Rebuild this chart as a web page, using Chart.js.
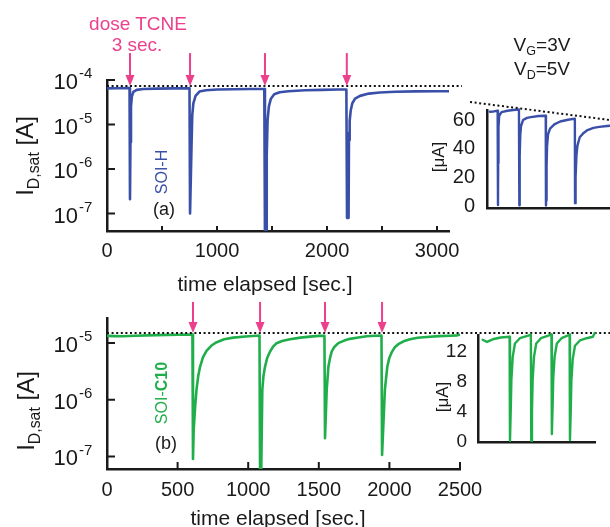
<!DOCTYPE html>
<html>
<head>
<meta charset="utf-8">
<script src="https://cdn.jsdelivr.net/npm/chart.js@4.4.1/dist/chart.umd.min.js"></script>
<style>
html, body { margin: 0; padding: 0; background: #fff; overflow: hidden; }
#wrap { position: relative; width: 610px; height: 527px; font-family: "Liberation Sans", Arial, Helvetica, sans-serif; color: #1a1a1a; }
#wrap canvas { position: absolute; left: 0; top: 0; }
.t { position: absolute; white-space: nowrap; line-height: 1; transform: translate(-50%, -50%); }
.rot { transform: translate(-50%, -50%) rotate(-90deg); }
.sb { position: relative; top: 0.35em; font-size: 0.66em; }
.pink { color: #ec3f8c; }
.bold { font-weight: 700; }
</style>
</head>
<body>
<div id="wrap">
  <canvas id="mainA" width="610" height="527"></canvas>
  <canvas id="insetA" width="610" height="527"></canvas>
  <canvas id="mainB" width="610" height="527"></canvas>
  <canvas id="insetB" width="610" height="527"></canvas>

  <div class="t pink" style="left:138px;top:23px;font-size:19px">dose TCNE</div>
  <div class="t pink" style="left:137px;top:44px;font-size:19px">3 sec.</div>
  <div class="t" style="left:542px;top:44px;font-size:19px">V<span class="sb">G</span>=3V</div>
  <div class="t" style="left:542px;top:68px;font-size:19px">V<span class="sb">D</span>=5V</div>

  <div class="t rot" style="left:25px;top:156px;font-size:24px">I<span class="sb">D,sat</span> [A]</div>
  <div class="t rot" style="left:26px;top:411px;font-size:24px">I<span class="sb">D,sat</span> [A]</div>
  <div class="t" style="left:265px;top:283px;font-size:21px">time elapsed [sec.]</div>
  <div class="t" style="left:278px;top:517px;font-size:21px">time elapsed [sec.]</div>

  <div class="t rot" style="left:162px;top:172px;font-size:16px;color:#3a50a8">SOI-H</div>
  <div class="t" style="left:164px;top:209px;font-size:18px">(a)</div>
  <div class="t rot" style="left:162px;top:393px;font-size:16px;color:#1fae4a">SOI-<span class="bold">C10</span></div>
  <div class="t" style="left:166px;top:443px;font-size:18px">(b)</div>

  <div class="t rot" style="left:438px;top:157px;font-size:17px">[μA]</div>
  <div class="t rot" style="left:442px;top:397px;font-size:17px">[μA]</div>
</div>
<script>
// ---- panel (a): SOI-H, main plot [A] ----
const doseA = [209, 755, 1436, 2180];
const timeA = [0, 100, 205,
    209, 213, 218, 226, 240, 270, 330, 450, 600, 750,
    755, 762, 768, 775, 785, 805, 840, 900, 1000, 1150, 1300, 1430,
    1436, 1446, 1452, 1460, 1472, 1490, 1520, 1570, 1650, 1800, 1950, 2100, 2176,
    2182, 2196, 2200, 2204, 2208, 2216, 2230, 2255, 2300, 2380, 2480, 2620, 2800, 3000, 3110];
const currentA = [6.5e-5, 6.55e-5, 6.6e-5,
    2.1e-7, 4e-6, 2.5e-5, 4.3e-5, 5.4e-5, 6.0e-5, 6.3e-5, 6.4e-5, 6.5e-5, 6.55e-5,
    1.0e-7, 1.0e-7, 3e-6, 1.6e-5, 3.0e-5, 4.4e-5, 5.5e-5, 5.9e-5, 6.1e-5, 6.2e-5, 6.3e-5, 6.3e-5,
    3e-8, 3e-8, 2e-6, 1.3e-5, 2.6e-5, 3.8e-5, 4.8e-5, 5.3e-5, 5.6e-5, 5.9e-5, 6.0e-5, 6.1e-5, 6.1e-5,
    8e-8, 8e-8, 6.5e-6, 4.5e-6, 1.2e-5, 2.1e-5, 3.0e-5, 3.8e-5, 4.4e-5, 4.95e-5, 5.25e-5, 5.45e-5, 5.55e-5, 5.6e-5, 5.6e-5];
const refLevelA = 7.3e-5;
const refEndA = 3227;
const xTicksA = [500, 1000, 1500, 2000, 2500, 3000];
const xLabelsA = [0, 1000, 2000, 3000];
const yLogTicksA = [1e-4, 1e-5, 1e-6, 1e-7];

// ---- panel (a) inset [μA] ----
const insetTimeA = [0, 100, 200, 209, 214, 222, 240, 300, 450, 600, 745,
    755, 760, 768, 780, 800, 850, 950, 1050, 1250, 1430,
    1436, 1442, 1452, 1465, 1490, 1540, 1650, 1800, 2000, 2175,
    2180, 2188, 2200, 2215, 2240, 2300, 2400, 2500, 2650, 2800, 3000, 3080];
const insetCurA = [65.8, 66, 66.5, 0.7, 30, 55, 63, 65.5, 66.5, 67, 67.3,
    0.5, 5, 35, 50, 56, 60, 61.5, 62, 62.8, 63,
    0.4, 4, 28, 42, 50, 54, 57, 59, 60.2, 61,
    2, 3, 20, 35, 42, 48, 51, 53, 54.5, 55.2, 55.8, 56];
const insetRefA = [[-506, 72.6], [3074, 60]];
const insetLabelsA = [0, 20, 40, 60];

// ---- panel (b): SOI-C10, main plot [A] ----
const doseB = [609, 1084, 1544, 1948];
const timeB = [0, 60, 110, 200, 350, 500, 605,
    609, 614, 625, 634, 646, 659, 680, 706, 740, 777, 830, 894, 980, 1059, 1080,
    1084, 1092, 1100, 1108, 1119, 1135, 1154, 1175, 1201, 1240, 1296, 1370, 1437, 1500, 1540,
    1544, 1549, 1556, 1568, 1580, 1591, 1610, 1638, 1680, 1721, 1780, 1839, 1900, 1944,
    1948, 1952, 1968, 1985, 2000, 2016, 2040, 2063, 2100, 2146, 2200, 2264, 2350, 2430, 2480, 2500];
const currentB = [1.33e-5, 1.32e-5, 1.31e-5, 1.34e-5, 1.37e-5, 1.39e-5, 1.4e-5,
    9e-8, 3e-7, 8e-7, 1.5e-6, 2.6e-6, 3.8e-6, 5.6e-6, 7.3e-6, 9e-6, 1.03e-5, 1.16e-5, 1.24e-5, 1.3e-5, 1.34e-5, 1.35e-5,
    5e-8, 5e-8, 1.5e-6, 2.6e-6, 3.8e-6, 5.5e-6, 7e-6, 8.5e-6, 9.9e-6, 1.08e-5, 1.16e-5, 1.24e-5, 1.29e-5, 1.33e-5, 1.34e-5,
    2.1e-7, 2.1e-7, 1.5e-6, 3.8e-6, 5.5e-6, 7e-6, 8.5e-6, 9.9e-6, 1.1e-5, 1.18e-5, 1.25e-5, 1.31e-5, 1.34e-5, 1.35e-5,
    1.06e-7, 1.06e-7, 1.5e-6, 3.8e-6, 5.5e-6, 6.8e-6, 8.5e-6, 9.5e-6, 1.07e-5, 1.16e-5, 1.23e-5, 1.27e-5, 1.32e-5, 1.34e-5, 1.36e-5, 1.4e-5];
const refLevelB = 1.5e-5;
const refEndB = 3562;
const xTicksB = [500, 1000, 1500, 2000, 2500];
const xLabelsB = [0, 500, 1000, 1500, 2000, 2500];
const yLogTicksB = [1e-5, 1e-6, 1e-7];

// ---- panel (b) inset [μA] ----
const insetTimeB = [0, 96, 250, 400, 600, 609, 625, 640, 670, 720, 830, 1000, 1075,
    1084, 1100, 1115, 1145, 1195, 1300, 1450, 1535,
    1544, 1560, 1575, 1605, 1655, 1760, 1880, 1940,
    1948, 1965, 1980, 2010, 2060, 2170, 2320, 2460, 2500];
const insetCurB = [13.6, 13.3, 13.7, 13.9, 14.0, 0.1, 4, 8.2, 11.3, 13.1, 13.8, 14.1, 14.3,
    0.1, 4, 8.2, 11.3, 13.1, 13.8, 14.1, 14.3,
    1.0, 4.5, 8.5, 11.3, 13.1, 13.8, 14.1, 14.3,
    0.2, 4, 8.2, 11, 12.8, 13.5, 13.8, 14.0, 14.5];
const insetLabelsB = [0, 4, 8, 12];

const BLUE = '#3a50a8';
const GREEN = '#1fae4a';
const PINK = '#ec3f8c';
const INK = '#1a1a1a';
const FONT = '"Liberation Sans", Arial, Helvetica, sans-serif';

const toPts = (xs, ys) => xs.map((t, i) => ({ x: t, y: ys[i] }));

// inward ticks, tick labels (with 10^n superscripts) and dose arrows
const decoPlugin = {
    id: 'deco',
    afterDraw(chart, args, o) {
        const ctx = chart.ctx;
        const xs = chart.scales.x, ys = chart.scales.y;
        ctx.save();
        ctx.strokeStyle = INK;
        ctx.lineWidth = 2;
        ctx.beginPath();
        (o.xTicks || []).forEach(v => {
            const px = xs.getPixelForValue(v);
            ctx.moveTo(px, ys.bottom);
            ctx.lineTo(px, ys.bottom - o.xTickLen);
        });
        (o.yTicks || []).forEach(v => {
            const py = ys.getPixelForValue(v);
            ctx.moveTo(xs.left, py);
            ctx.lineTo(xs.left + o.yTickLen, py);
        });
        ctx.stroke();

        ctx.fillStyle = INK;
        ctx.textBaseline = 'middle';
        ctx.textAlign = 'center';
        ctx.font = '20px ' + FONT;
        (o.xLabels || []).forEach(v => {
            ctx.fillText(String(v), xs.getPixelForValue(v), ys.bottom + o.xLabelGap);
        });

        (o.yLabels || []).forEach(v => {
            const py = ys.getPixelForValue(v);
            if (o.log) {
                const exp = Math.round(Math.log10(v));
                const x0 = xs.left - 29;
                ctx.font = '22px ' + FONT;
                ctx.textAlign = 'right';
                ctx.fillText('10', x0, py + 3);
                ctx.font = '15px ' + FONT;
                ctx.textAlign = 'left';
                ctx.fillText(String(exp), x0 + 1, py - 6);
            } else {
                ctx.font = o.yFont;
                ctx.textAlign = 'right';
                ctx.fillText(String(v), xs.left - o.yLabelGap, py);
            }
        });

        if (o.doses) {
            const tip = ys.getPixelForValue(o.arrowAt);
            ctx.strokeStyle = PINK;
            ctx.fillStyle = PINK;
            ctx.lineWidth = 2;
            o.doses.forEach(t => {
                const px = xs.getPixelForValue(t);
                ctx.beginPath();
                ctx.moveTo(px, tip - o.arrowLen);
                ctx.lineTo(px, tip - 8);
                ctx.stroke();
                ctx.beginPath();
                ctx.moveTo(px - 4.5, tip - 11);
                ctx.lineTo(px + 4.5, tip - 11);
                ctx.lineTo(px, tip);
                ctx.closePath();
                ctx.fill();
            });
        }
        ctx.restore();
    }
};

function axis(type, min, max, fit) {
    return {
        type, min, max,
        grid: { display: false },
        ticks: { display: false },
        border: { display: true, color: INK, width: 2.5 },
        afterFit: s => { s[fit] = 0; }
    };
}

function line(data, color, w, extra) {
    return Object.assign({
        data, borderColor: color, borderWidth: w, pointRadius: 0,
        tension: 0, borderJoinStyle: 'round', borderCapStyle: 'round', fill: false
    }, extra || {});
}

function dotted(data) {
    return line(data, '#111', 2, { borderDash: [2, 2.6], clip: false, borderCapStyle: 'butt' });
}

function makeChart(id, padding, scales, datasets, deco) {
    return new Chart(document.getElementById(id), {
        type: 'line',
        data: { datasets },
        options: {
            responsive: false,
            animation: false,
            layout: { padding },
            scales,
            plugins: { legend: { display: false }, tooltip: { enabled: false }, deco }
        },
        plugins: [decoPlugin]
    });
}

// (a) main, log scale
makeChart('mainA', { left: 107, top: 80, right: 161, bottom: 296 },
    { x: axis('linear', 0, 3109, 'height'), y: axis('logarithmic', 4.05e-8, 1e-4, 'width') },
    [
        dotted([{ x: 0, y: refLevelA }, { x: refEndA, y: refLevelA }]),
        line(toPts(timeA, currentA), BLUE, 2.6)
    ],
    { xTicks: xTicksA, xTickLen: 5, xLabels: xLabelsA, xLabelGap: 20,
      yTicks: yLogTicksA, yTickLen: 8, yLabels: yLogTicksA, log: true,
      doses: doseA, arrowAt: refLevelA, arrowLen: 33 });

// (a) inset, linear μA
makeChart('insetA', { left: 487, top: 110, right: 0, bottom: 319 },
    { x: axis('linear', -72, 3074, 'height'), y: axis('linear', -1.4, 67, 'width') },
    [
        dotted(insetRefA.map(p => ({ x: p[0], y: p[1] }))),
        line(toPts(insetTimeA, insetCurA), BLUE, 2.4, { clip: false })
    ],
    { yLabels: insetLabelsA, yFont: '20px ' + FONT, yLabelGap: 12 });

// (b) main, log scale
makeChart('mainB', { left: 107, top: 318, right: 150, bottom: 58 },
    { x: axis('linear', 0, 2500, 'height'), y: axis('logarithmic', 6.16e-8, 2.75e-5, 'width') },
    [
        dotted([{ x: 0, y: refLevelB }, { x: refEndB, y: refLevelB }]),
        line(toPts(timeB, currentB), GREEN, 2.6)
    ],
    { xTicks: xTicksB, xTickLen: 7, xLabels: xLabelsB, xLabelGap: 21,
      yTicks: yLogTicksB, yTickLen: 8, yLabels: yLogTicksB, log: true,
      doses: doseB, arrowAt: refLevelB, arrowLen: 31 });

// (b) inset, linear μA
makeChart('insetB', { left: 478, top: 335, right: 15, bottom: 85 },
    { x: axis('linear', -105, 2507, 'height'), y: axis('linear', -0.07, 14.23, 'width') },
    [
        line(toPts(insetTimeB, insetCurB), GREEN, 2.4, { clip: false })
    ],
    { yLabels: insetLabelsB, yFont: '19px ' + FONT, yLabelGap: 11 });
</script>
</body>
</html>
